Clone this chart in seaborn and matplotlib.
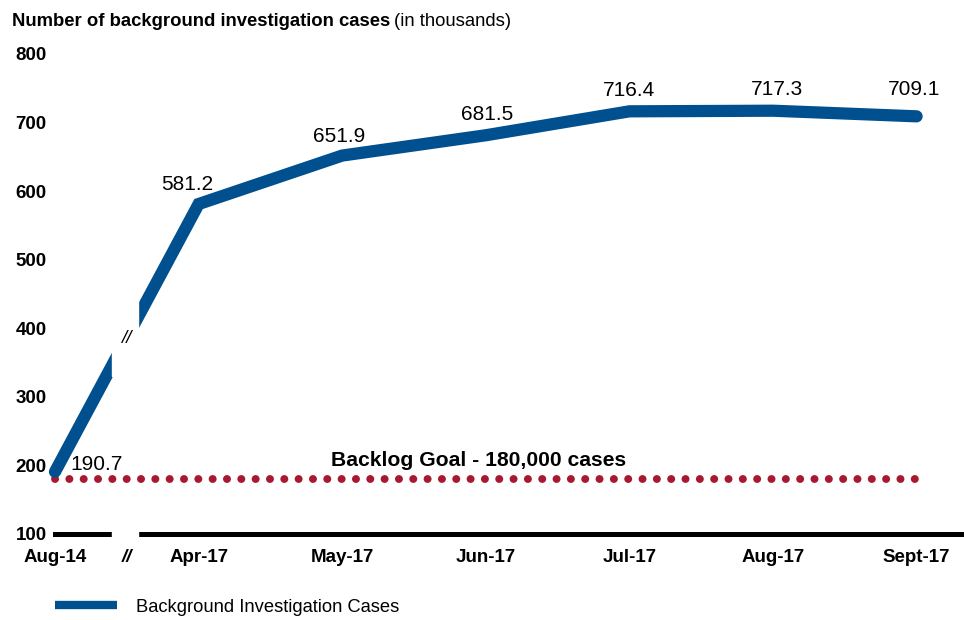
import pandas as pd
import numpy as np
import matplotlib.pyplot as plt
import seaborn as sns
from matplotlib.lines import Line2D
from matplotlib.patches import Rectangle

# data (in thousands of cases)
months = ['Aug-14', 'Apr-17', 'May-17', 'Jun-17', 'Jul-17', 'Aug-17', 'Sept-17']
cases = [190.7, 581.2, 651.9, 681.5, 716.4, 717.3, 709.1]
goal = 180
# label offsets in points (dx, dy) relative to each point
label_offsets = [(30, 5), (-8, 14), (-2, 14), (1, 15), (0, 15), (3, 15), (-2, 19)]

blue = '#00508f'
red = '#a6192e'

sns.set_theme(style='white')
plt.rcParams['font.family'] = ['Liberation Sans', 'DejaVu Sans']
plt.rcParams['text.color'] = 'black'
plt.rcParams['xtick.color'] = 'black'
plt.rcParams['ytick.color'] = 'black'

df = pd.DataFrame({'pos': np.arange(len(months)), 'month': months, 'cases': cases})
df['goal'] = goal

fig = plt.figure(figsize=(9.64, 6.2), dpi=100)
ax = fig.add_axes([55 / 964, 1 - 534 / 620, 1 - 55 / 964, 480 / 620])

sns.lineplot(data=df, x='pos', y='goal', ax=ax, color=red, linewidth=5.7,
             linestyle=(0, (0.01, 1.80)), dash_capstyle='round', clip_on=False)
sns.lineplot(data=df, x='pos', y='cases', ax=ax, color=blue, linewidth=8.8,
             solid_capstyle='round', solid_joinstyle='miter', clip_on=False, zorder=3)

ax.set_xlim(0, 6.33)
ax.set_ylim(100, 800)
ax.set_yticks(range(100, 801, 100))
ax.set_xticks(list(df['pos']) + [0.5])
ax.set_xticklabels(months + ['//'])
ax.set_xlabel('')
ax.set_ylabel('')
for s in ['top', 'right', 'left']:
    ax.spines[s].set_visible(False)
ax.spines['bottom'].set_linewidth(3.6)
ax.spines['bottom'].set_color('black')
ax.tick_params(axis='both', length=0, labelsize=13.5)
ax.tick_params(axis='y', pad=6)
ax.tick_params(axis='x', pad=11)
for lab in ax.get_xticklabels() + ax.get_yticklabels():
    lab.set_fontweight('bold')
    lab.set_color('black')
ax.get_xticklabels()[-1].set_fontstyle('italic')

# break in the line and the axis
ax.add_patch(Rectangle((0.40, 330), 0.18, 120, color='white', zorder=4))
ax.add_patch(Rectangle((0.40, 96), 0.18, 8, color='white', zorder=4, clip_on=False))
ax.text(0.5, 385, '//', ha='center', va='center', fontsize=13.5, fontstyle='italic',
        zorder=5)

# data labels
for (x, y), (dx, dy) in zip(zip(df['pos'], cases), label_offsets):
    ax.annotate(f'{y:.1f}', (x, y), xytext=(dx, dy), textcoords='offset points',
                ha='center', va='center', fontsize=15, color='black')

ax.text(2.95, 207, 'Backlog Goal - 180,000 cases', ha='center', va='center',
        fontsize=15.2, fontweight='bold')

# title, bold part + normal part
t1 = fig.text(12 / 964, 1 - 22 / 620, 'Number of background investigation cases',
              fontsize=13.3, fontweight='bold', va='center', ha='left')
fig.canvas.draw()
bb = t1.get_window_extent()
fig.text(bb.x1 / 964 + 4 / 964, 1 - 22 / 620, '(in thousands)', fontsize=13.3,
         va='center', ha='left')

handle = Line2D([], [], color=blue, linewidth=6, solid_capstyle='butt')
fig.legend([handle], ['Background Investigation Cases'], loc='center left',
           bbox_to_anchor=(55 / 964, 1 - 607 / 620), frameon=False, fontsize=13.2,
           handlelength=3.4, handletextpad=1.0, borderpad=0, borderaxespad=0)

fig.savefig('out.png', dpi=100)
